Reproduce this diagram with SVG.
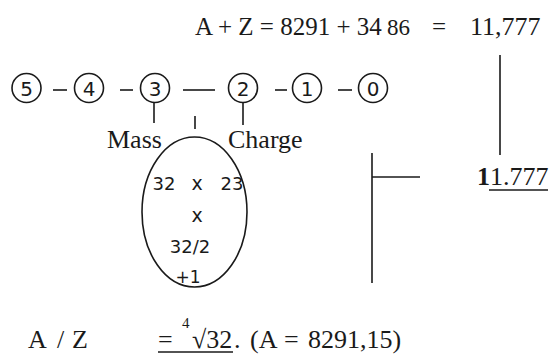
<svg xmlns="http://www.w3.org/2000/svg" width="550" height="354" viewBox="0 0 550 354">
<style>
.s{font-family:"Liberation Serif","Times New Roman",serif;fill:#1a1a1a}
.h{font-family:"DejaVu Sans","Liberation Sans",sans-serif;fill:#1a1a1a;text-anchor:middle}
.d{font-family:"DejaVu Sans","Liberation Sans",sans-serif;fill:#1a1a1a;text-anchor:middle;font-size:20px}
.c{fill:none;stroke:#1a1a1a;stroke-width:1.6}
.l{stroke:#1a1a1a;stroke-width:1.6;fill:none}
</style>
<rect width="550" height="354" fill="#fff"/>
<g id="top-formula" class="s" font-size="25">
<text x="195" y="35">A + Z = 8291 + 34</text>
<text x="387" y="35" font-size="23">86</text>
<text x="432" y="35">=</text>
<text x="470" y="35" font-size="26">11,777</text>
</g>
<g id="n5"><circle class="c" cx="26.5" cy="88" r="14.5"/><text class="d" x="26.5" y="95.5">5</text></g>
<g id="n4"><circle class="c" cx="89" cy="88" r="14.5"/><text class="d" x="89" y="95.5">4</text></g>
<g id="n3"><circle class="c" cx="155" cy="88" r="14.5"/><text class="d" x="155" y="95.5">3</text></g>
<g id="n2"><circle class="c" cx="243" cy="88" r="14.5"/><text class="d" x="243" y="95.5">2</text></g>
<g id="n1"><circle class="c" cx="307" cy="88" r="14.5"/><text class="d" x="307" y="95.5">1</text></g>
<g id="n0"><circle class="c" cx="373" cy="88" r="14.5"/><text class="d" x="373" y="95.5">0</text></g>
<g id="mass"><text class="s" x="107" y="148" font-size="26">Mass</text></g>
<g id="charge"><text class="s" x="228" y="148" font-size="26">Charge</text></g>
<g id="ellipse-node">
<ellipse class="c" cx="194.5" cy="212" rx="52.5" ry="75"/>
<text class="h" x="164" y="190" font-size="18">32</text>
<text class="h" x="197" y="190" font-size="19">x</text>
<text class="h" x="232" y="190" font-size="18">23</text>
<text class="h" x="197" y="222" font-size="19">x</text>
<text class="h" x="190" y="253" font-size="18">32/2</text>
<text class="h" x="188" y="283" font-size="17">+1</text>
</g>
<g id="result"><text class="s" x="477" y="185" font-size="26"><tspan font-weight="bold">1</tspan>1.777</text>
<line class="l" x1="489" y1="190" x2="548" y2="190"/></g>
<g id="bottom-formula" class="s" font-size="26">
<text x="28" y="348">A</text>
<text x="57" y="348">/</text>
<text x="72" y="348">Z</text>
<text x="158" y="348">=</text>
<text x="182" y="328" font-size="15">4</text>
<text x="192" y="348">√32</text>
<text x="234" y="348">.</text>
<text x="250" y="348">(A</text>
<text x="284" y="348">=</text>
<text x="308" y="348">8291,15)</text>
<line class="l" x1="158" y1="352" x2="233" y2="352"/>
</g>
<g id="connectors" class="l">
<line x1="53" y1="90" x2="67" y2="90"/>
<line x1="120" y1="90" x2="133" y2="90"/>
<line x1="183" y1="90" x2="215" y2="90"/>
<line x1="275" y1="90" x2="287" y2="90"/>
<line x1="338" y1="90" x2="352" y2="90"/>
<line x1="154" y1="102.5" x2="154" y2="123"/>
<line x1="243" y1="102.5" x2="243" y2="125"/>
<line x1="195" y1="116" x2="195" y2="129"/>
<line x1="500" y1="55" x2="500" y2="155"/>
<line x1="372" y1="153" x2="372" y2="283"/>
<line x1="372" y1="177" x2="420" y2="177"/>
</g>
</svg>
